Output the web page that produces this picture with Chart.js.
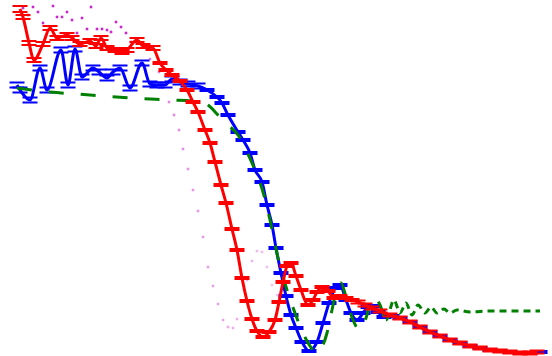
<!DOCTYPE html>
<html>
<head>
<meta charset="utf-8">
<script src="https://cdn.jsdelivr.net/npm/chart.js@4.4.0/dist/chart.umd.min.js"></script>
<style>
  html, body { margin: 0; padding: 0; background: #fff; }
  #wrap { width: 552px; height: 356px; }
</style>
</head>
<body>
<div id="wrap"><canvas id="myChart"></canvas></div>
<script>
// each point: [x, y, err]
const redSeries = [
  [1.00, 3.47, 0.03], [1.15, 3.39, 0.02], [1.45, 3.13, 0.02], [1.70, 2.96, 0.02],
  [2.15, 3.12, 0.02], [2.50, 3.28, 0.02], [2.85, 3.18, 0.02], [3.35, 3.21, 0.02],
  [3.60, 3.18, 0.02], [4.00, 3.12, 0.02], [4.50, 3.15, 0.02], [4.80, 3.10, 0.02],
  [5.05, 3.18, 0.02], [5.35, 3.08, 0.02], [5.75, 3.06, 0.02], [6.10, 3.04, 0.02],
  [6.35, 3.06, 0.02], [6.85, 3.16, 0.02], [7.15, 3.10, 0.02], [7.65, 3.08, 0.02],
  [8.00, 2.93, 0.01], [8.30, 2.86, 0.01], [8.60, 2.81, 0.01], [9.00, 2.75, 0.01],
  [9.35, 2.66, 0.01], [9.65, 2.54, 0.01], [9.90, 2.44, 0.01], [10.25, 2.26, 0.01],
  [10.50, 2.13, 0.01], [10.75, 1.94, 0.01], [11.05, 1.71, 0.01], [11.30, 1.53, 0.01],
  [11.60, 1.27, 0.01], [11.85, 1.06, 0.01], [12.10, 0.78, 0.01], [12.35, 0.55, 0.01],
  [12.60, 0.37, 0.01], [12.85, 0.25, 0.01], [13.15, 0.19, 0.01], [13.45, 0.24, 0.01],
  [13.75, 0.36, 0.01], [13.95, 0.54, 0.01], [14.15, 0.74, 0.01], [14.35, 0.90, 0.01],
  [14.55, 0.93, 0.01], [14.80, 0.80, 0.01], [15.05, 0.66, 0.01], [15.40, 0.51, 0.01],
  [15.65, 0.56, 0.01], [15.85, 0.64, 0.01], [16.10, 0.69, 0.01], [16.40, 0.65, 0.01],
  [16.70, 0.58, 0.01], [17.00, 0.60, 0.01], [17.30, 0.58, 0.01], [17.60, 0.56, 0.01],
  [17.90, 0.54, 0.015], [18.25, 0.51, 0.015], [18.60, 0.48, 0.015], [19.00, 0.45, 0.015],
  [19.50, 0.41, 0.015], [20.00, 0.38, 0.015], [20.50, 0.34, 0.015], [21.00, 0.29, 0.015],
  [21.50, 0.24, 0.015], [22.00, 0.20, 0.015], [22.50, 0.16, 0.015], [23.00, 0.13, 0.015],
  [23.50, 0.10, 0.015], [24.00, 0.08, 0.015], [24.50, 0.06, 0.015], [25.00, 0.05, 0.015],
  [25.50, 0.04, 0.015], [26.00, 0.03, 0.015], [26.50, 0.03, 0.015], [26.85, 0.04, 0.015]
];

const blueSeries = [
  [0.85, 2.71, 0.025], [1.00, 2.66, 0.025], [1.50, 2.56, 0.025], [2.00, 2.88, 0.025],
  [2.35, 2.66, 0.025], [3.05, 3.06, 0.025], [3.40, 2.71, 0.025], [3.75, 3.07, 0.025],
  [4.10, 2.79, 0.025], [4.65, 2.88, 0.025], [4.95, 2.84, 0.025], [5.35, 2.78, 0.025],
  [5.65, 2.84, 0.025], [6.00, 2.88, 0.025], [6.50, 2.68, 0.025], [7.10, 2.93, 0.025],
  [7.50, 2.72, 0.025], [7.85, 2.71, 0.025], [8.25, 2.71, 0.025], [8.60, 2.77, 0.025],
  [9.00, 2.74, 0.025], [9.40, 2.72, 0.025], [9.90, 2.70, 0.025], [10.35, 2.66, 0.01],
  [10.85, 2.59, 0.01], [11.10, 2.53, 0.01], [11.40, 2.41, 0.01], [11.90, 2.24, 0.01],
  [12.15, 2.16, 0.01], [12.50, 2.03, 0.01], [12.75, 1.86, 0.01], [13.10, 1.74, 0.01],
  [13.35, 1.51, 0.01], [13.60, 1.31, 0.01], [13.80, 1.08, 0.01], [14.05, 0.83, 0.01],
  [14.30, 0.60, 0.01], [14.55, 0.41, 0.01], [14.80, 0.28, 0.01], [15.10, 0.14, 0.01],
  [15.45, 0.05, 0.01], [15.85, 0.14, 0.01], [16.15, 0.33, 0.01], [16.45, 0.53, 0.01],
  [16.75, 0.68, 0.01], [17.00, 0.71, 0.01], [17.30, 0.56, 0.01], [17.55, 0.43, 0.01],
  [17.85, 0.36, 0.01], [18.15, 0.43, 0.01], [18.40, 0.49, 0.01], [18.65, 0.50, 0.01],
  [18.90, 0.44, 0.01], [19.20, 0.39, 0.01], [19.60, 0.40, 0.01], [20.00, 0.38, 0.01],
  [20.50, 0.34, 0.01], [21.00, 0.29, 0.01], [21.50, 0.24, 0.01], [22.00, 0.20, 0.01],
  [22.50, 0.16, 0.01], [23.00, 0.13, 0.01], [23.50, 0.10, 0.01], [24.00, 0.08, 0.01],
  [24.50, 0.06, 0.01], [25.00, 0.05, 0.01], [25.50, 0.04, 0.01], [26.00, 0.03, 0.01],
  [26.50, 0.03, 0.01], [27.00, 0.04, 0.01]
];

// [x, y]
const greenSeries = [
  [0.85, 2.68], [2.50, 2.64], [4.50, 2.61], [6.50, 2.58], [8.50, 2.56], [10.00, 2.54],
  [10.40, 2.51], [10.90, 2.41], [11.40, 2.31], [11.90, 2.21], [12.30, 2.06], [12.75, 1.86],
  [13.15, 1.64], [13.50, 1.36], [13.90, 0.98], [14.35, 0.66], [14.75, 0.43], [15.15, 0.23],
  [15.50, 0.10], [15.80, 0.03], [16.10, 0.09], [16.35, 0.23], [16.60, 0.46], [16.85, 0.68],
  [17.05, 0.73], [17.30, 0.59], [17.65, 0.36], [18.00, 0.26], [18.30, 0.38], [18.60, 0.58],
  [18.75, 0.59], [19.00, 0.51], [19.30, 0.36], [19.70, 0.56], [20.00, 0.43], [20.30, 0.53],
  [20.60, 0.41], [20.90, 0.51], [21.25, 0.43], [21.55, 0.49], [21.85, 0.43], [22.20, 0.47],
  [22.50, 0.43], [22.85, 0.46], [23.50, 0.44], [24.50, 0.45], [25.50, 0.45], [27.00, 0.45]
];

const magentaDots = [
  [1.15, 3.48], [1.40, 3.41], [1.65, 3.49], [1.90, 3.44], [2.15, 3.33], [2.65, 3.50],
  [2.85, 3.39], [3.10, 3.39], [3.35, 3.44], [3.60, 3.36], [3.85, 3.23], [4.10, 3.38],
  [4.35, 3.27], [4.55, 3.49], [4.85, 3.27], [5.10, 3.27], [5.35, 3.26], [5.55, 3.24],
  [5.80, 3.34], [6.05, 3.29], [6.30, 3.23], [6.55, 3.14], [7.50, 2.97], [7.95, 2.84],
  [8.45, 2.54], [8.70, 2.41], [8.95, 2.26], [9.15, 2.07], [9.40, 1.87], [9.65, 1.66],
  [9.90, 1.45], [10.15, 1.19], [10.40, 0.89], [10.65, 0.70], [10.90, 0.52], [11.15, 0.36],
  [11.40, 0.29], [11.65, 0.28], [11.85, 0.37], [12.35, 0.76], [12.60, 0.95], [12.85, 1.05],
  [13.10, 1.04], [13.35, 0.89], [13.60, 0.71], [13.85, 0.61]
];

function linePoints(series) {
  return series.map(p => ({x: p[0], y: p[1]}));
}

function capPoints(series) {
  const caps = [];
  series.forEach(p => {
    caps.push({x: p[0], y: p[1] + p[2]});
    caps.push({x: p[0], y: p[1] - p[2]});
  });
  return caps;
}

const data = {
  datasets: [
    {
      label: 'red',
      data: linePoints(redSeries),
      borderColor: '#ff0000',
      borderWidth: 3,
      pointRadius: 0,
      cubicInterpolationMode: 'monotone',
      order: 1
    },
    {
      label: 'red err',
      data: capPoints(redSeries),
      showLine: false,
      pointStyle: 'line',
      pointRadius: 7.5,
      borderColor: '#ff0000',
      borderWidth: 2,
      order: 1
    },
    {
      label: 'green',
      data: linePoints(greenSeries),
      borderColor: '#008000',
      borderWidth: 3,
      pointRadius: 0,
      cubicInterpolationMode: 'monotone',
      segment: {
        borderDash: ctx => ctx.p0.parsed.x > 19.1 ? [7, 5] : [15, 17]
      },
      order: 2
    },
    {
      label: 'blue',
      data: linePoints(blueSeries),
      borderColor: '#0000ff',
      borderWidth: 3,
      pointRadius: 0,
      cubicInterpolationMode: 'monotone',
      order: 3
    },
    {
      label: 'blue err',
      data: capPoints(blueSeries),
      showLine: false,
      pointStyle: 'line',
      pointRadius: 7.5,
      borderColor: '#0000ff',
      borderWidth: 2,
      order: 3
    },
    {
      label: 'magenta',
      data: linePoints(magentaDots),
      showLine: false,
      pointStyle: 'rect',
      pointRadius: 1.8,
      borderWidth: 0,
      backgroundColor: ctx => {
        const i = ctx.dataIndex;
        const a = i < 22 ? 0.85 : Math.max(0.2, 0.5 - (i - 22) * 0.012);
        return `rgba(191, 0, 191, ${a})`;
      },
      order: 4
    }
  ]
};

const ctx = document.getElementById('myChart').getContext('2d');
const myChart = new Chart(ctx, {
  type: 'line',
  data: data,
  options: {
    animation: false,
    responsive: true,
    maintainAspectRatio: false,
    layout: { padding: 0, autoPadding: false },
    plugins: {
      legend: { display: false },
      tooltip: { enabled: false }
    },
    scales: {
      x: { type: 'linear', display: false, min: 0, max: 27.6 },
      y: { display: false, min: 0, max: 3.56 }
    }
  }
});
</script>
</body>
</html>
